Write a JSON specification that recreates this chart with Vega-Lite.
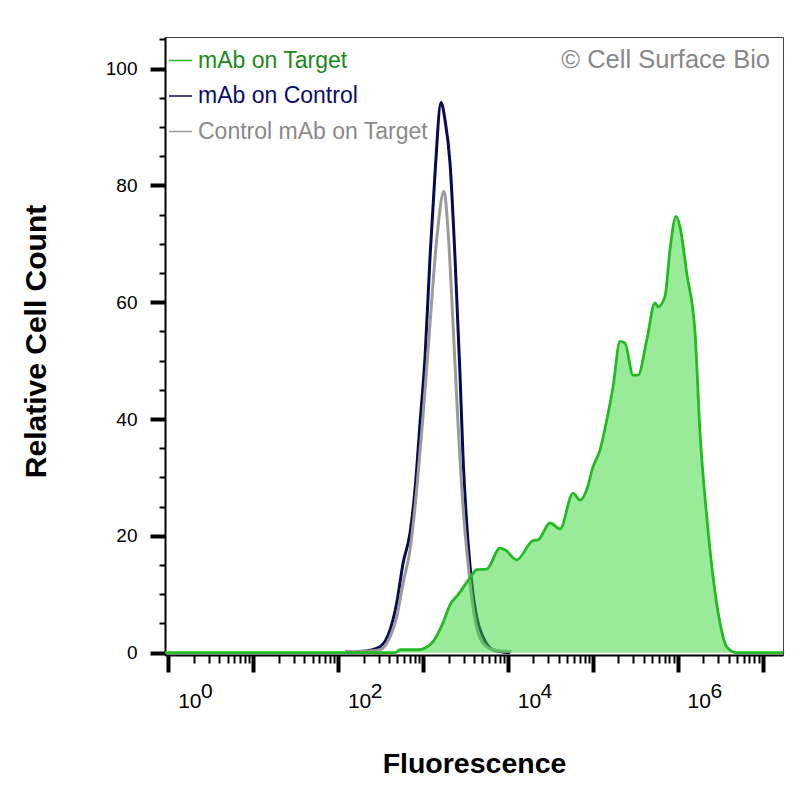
{
  "$schema": "https://vega.github.io/schema/vega-lite/v6.json",
  "description": "Flow cytometry histogram: relative cell count against fluorescence for three stainings.",
  "width": 618,
  "height": 618,
  "autosize": "none",
  "padding": {"left": 165, "top": 37, "right": 17, "bottom": 145},
  "background": "white",
  "config": {
    "font": "Liberation Sans",
    "view": {"stroke": "#444444", "strokeWidth": 1},
    "axis": {"grid": false}
  },
  "title": {
    "text": "© Cell Surface Bio",
    "orient": "top",
    "anchor": "end",
    "frame": "group",
    "offset": 0,
    "baseline": "alphabetic",
    "dy": 56,
    "dx": -13,
    "font": "Liberation Sans",
    "fontSize": 25.5,
    "fontWeight": "normal",
    "color": "#888888"
  },
  "data": {
    "values": [
      {"s": "mAb on Control", "f": 181, "c": 0.2},
      {"s": "mAb on Control", "f": 238, "c": 0.4},
      {"s": "mAb on Control", "f": 312, "c": 1.0},
      {"s": "mAb on Control", "f": 409, "c": 3.9},
      {"s": "mAb on Control", "f": 490, "c": 8.5},
      {"s": "mAb on Control", "f": 582, "c": 15.3},
      {"s": "mAb on Control", "f": 703, "c": 20.5},
      {"s": "mAb on Control", "f": 805, "c": 27.9},
      {"s": "mAb on Control", "f": 922, "c": 39.3},
      {"s": "mAb on Control", "f": 1056, "c": 50.6},
      {"s": "mAb on Control", "f": 1210, "c": 67.8},
      {"s": "mAb on Control", "f": 1385, "c": 82.1},
      {"s": "mAb on Control", "f": 1629, "c": 94.2},
      {"s": "mAb on Control", "f": 1815, "c": 91.2},
      {"s": "mAb on Control", "f": 2080, "c": 83.8},
      {"s": "mAb on Control", "f": 2378, "c": 67.8},
      {"s": "mAb on Control", "f": 2723, "c": 47.9},
      {"s": "mAb on Control", "f": 2958, "c": 33.6},
      {"s": "mAb on Control", "f": 3270, "c": 22.2},
      {"s": "mAb on Control", "f": 3749, "c": 11.9},
      {"s": "mAb on Control", "f": 4289, "c": 6.1},
      {"s": "mAb on Control", "f": 5092, "c": 2.7},
      {"s": "mAb on Control", "f": 6668, "c": 0.5},
      {"s": "mAb on Control", "f": 10590, "c": 0},

      {"s": "Control mAb on Target", "f": 120.5, "c": 0.2},
      {"s": "Control mAb on Target", "f": 238, "c": 0.3},
      {"s": "Control mAb on Target", "f": 312, "c": 0.5},
      {"s": "Control mAb on Target", "f": 409, "c": 2.7},
      {"s": "Control mAb on Target", "f": 490, "c": 6.1},
      {"s": "Control mAb on Target", "f": 582, "c": 11.9},
      {"s": "Control mAb on Target", "f": 703, "c": 17.6},
      {"s": "Control mAb on Target", "f": 843, "c": 27.9},
      {"s": "Control mAb on Target", "f": 1000, "c": 40.4},
      {"s": "Control mAb on Target", "f": 1210, "c": 56.4},
      {"s": "Control mAb on Target", "f": 1449, "c": 70.7},
      {"s": "Control mAb on Target", "f": 1766, "c": 79},
      {"s": "Control mAb on Target", "f": 1968, "c": 72.4},
      {"s": "Control mAb on Target", "f": 2255, "c": 56.4},
      {"s": "Control mAb on Target", "f": 2582, "c": 39.3},
      {"s": "Control mAb on Target", "f": 2958, "c": 25},
      {"s": "Control mAb on Target", "f": 3388, "c": 15.3},
      {"s": "Control mAb on Target", "f": 3883, "c": 7.8},
      {"s": "Control mAb on Target", "f": 4694, "c": 2.5},
      {"s": "Control mAb on Target", "f": 6152, "c": 0.7},
      {"s": "Control mAb on Target", "f": 8070, "c": 0.3},
      {"s": "Control mAb on Target", "f": 11000, "c": 0.2},

      {"s": "mAb on Target", "f": 0.914, "c": 0},
      {"s": "mAb on Target", "f": 469, "c": 0},
      {"s": "mAb on Target", "f": 536, "c": 0.5},
      {"s": "mAb on Target", "f": 873, "c": 0.5},
      {"s": "mAb on Target", "f": 1056, "c": 0.8},
      {"s": "mAb on Target", "f": 1313, "c": 1.9},
      {"s": "mAb on Target", "f": 1718, "c": 5.1},
      {"s": "mAb on Target", "f": 2080, "c": 8.2},
      {"s": "mAb on Target", "f": 2582, "c": 9.9},
      {"s": "mAb on Target", "f": 3578, "c": 12.8},
      {"s": "mAb on Target", "f": 4289, "c": 14.2},
      {"s": "mAb on Target", "f": 5623, "c": 14.3},
      {"s": "mAb on Target", "f": 8070, "c": 17.9},
      {"s": "mAb on Target", "f": 9247, "c": 17.6},
      {"s": "mAb on Target", "f": 12700, "c": 15.9},
      {"s": "mAb on Target", "f": 19770, "c": 19.2},
      {"s": "mAb on Target", "f": 22650, "c": 19.3},
      {"s": "mAb on Target", "f": 31340, "c": 22.2},
      {"s": "mAb on Target", "f": 41110, "c": 21.2},
      {"s": "mAb on Target", "f": 58480, "c": 27.3},
      {"s": "mAb on Target", "f": 70790, "c": 26.1},
      {"s": "mAb on Target", "f": 84760, "c": 27.9},
      {"s": "mAb on Target", "f": 100500, "c": 31.8},
      {"s": "mAb on Target", "f": 121600, "c": 34.7},
      {"s": "mAb on Target", "f": 145900, "c": 39.8},
      {"s": "mAb on Target", "f": 173000, "c": 45.5},
      {"s": "mAb on Target", "f": 208900, "c": 53.3},
      {"s": "mAb on Target", "f": 239300, "c": 53},
      {"s": "mAb on Target", "f": 297800, "c": 47.5},
      {"s": "mAb on Target", "f": 341100, "c": 47.5},
      {"s": "mAb on Target", "f": 431500, "c": 53.5},
      {"s": "mAb on Target", "f": 540800, "c": 59.9},
      {"s": "mAb on Target", "f": 586100, "c": 59.2},
      {"s": "mAb on Target", "f": 707900, "c": 61},
      {"s": "mAb on Target", "f": 810900, "c": 69},
      {"s": "mAb on Target", "f": 955000, "c": 74.7},
      {"s": "mAb on Target", "f": 1064000, "c": 72.9},
      {"s": "mAb on Target", "f": 1276000, "c": 65},
      {"s": "mAb on Target", "f": 1600000, "c": 54.7},
      {"s": "mAb on Target", "f": 1832000, "c": 37.6},
      {"s": "mAb on Target", "f": 2197000, "c": 23.3},
      {"s": "mAb on Target", "f": 2606000, "c": 13},
      {"s": "mAb on Target", "f": 3148000, "c": 5.1},
      {"s": "mAb on Target", "f": 3776000, "c": 1},
      {"s": "mAb on Target", "f": 4955000, "c": 0},
      {"s": "mAb on Target", "f": 17380000, "c": 0}
    ]
  },
  "layer": [
    {
      "transform": [{"filter": "datum.s == 'mAb on Control'"}],
      "mark": {"type": "line", "interpolate": "monotone", "strokeWidth": 3},
      "encoding": {
        "x": {
          "field": "f", "type": "quantitative",
          "scale": {"type": "log", "domain": [0.914, 17380000], "nice": false},
          "axis": {
            "orient": "bottom",
            "values": [1, 10, 100, 1000, 10000, 100000, 1000000, 10000000],
            "labelExpr": "round(log(datum.value) / LN10) % 2 == 0 ? '10' : ''",
            "tickSize": 17, "tickWidth": 4, "tickColor": "black",
            "domainColor": "black", "domainWidth": 2,
            "labelFontSize": 21, "labelColor": "black", "labelAlign": "center",
            "labelBaseline": "alphabetic", "labelPadding": 35, "labelOffset": 21,
            "labelFlush": false, "labelOverlap": false,
            "title": "Fluorescence", "titleFontSize": 28.5, "titleFontWeight": "bold",
            "titleColor": "black", "titleX": 309, "titleY": 108,
            "titleAlign": "center", "titleBaseline": "middle"
          }
        },
        "y": {
          "field": "c", "type": "quantitative",
          "scale": {"domain": [-0.4, 105.4], "nice": false, "zero": false},
          "axis": {
            "orient": "left",
            "values": [0, 20, 40, 60, 80, 100],
            "tickSize": 15, "tickWidth": 4, "tickColor": "black",
            "domainColor": "black", "domainWidth": 2,
            "labelFontSize": 19, "labelColor": "black", "labelPadding": 13,
            "title": "Relative Cell Count", "titleFontSize": 30, "titleFontWeight": "bold",
            "titleColor": "black", "titleAngle": -90, "titleX": -129, "titleY": 304,
            "titleAlign": "center", "titleBaseline": "middle"
          }
        },
        "color": {
          "field": "s", "type": "nominal",
          "scale": {
            "domain": ["mAb on Target", "mAb on Control", "Control mAb on Target"],
            "range": ["#22bb22", "#0a0a52", "#9a9a9a"]
          },
          "legend": {
            "orient": "none", "legendX": 3, "legendY": 11, "title": null,
            "padding": 0, "symbolType": "stroke", "symbolSize": 529, "symbolStrokeWidth": 1.5,
            "labelFont": "Liberation Sans", "labelFontSize": 23, "labelOffset": 5,
            "labelLimit": 400, "rowPadding": 10.5,
            "encode": {
              "labels": {"update": {"fill": {"signal": "datum.value == 'mAb on Target' ? '#1b8a1b' : datum.value == 'mAb on Control' ? '#0c0c6e' : '#8a8a8a'"}}},
              "symbols": {"update": {"stroke": {"signal": "datum.value == 'mAb on Target' ? '#1b8a1b' : datum.value == 'mAb on Control' ? '#0c0c6e' : '#8a8a8a'"}}}
            }
          }
        }
      }
    },
    {
      "transform": [{"filter": "datum.s == 'Control mAb on Target'"}],
      "mark": {"type": "line", "interpolate": "monotone", "strokeWidth": 3},
      "encoding": {
        "x": {
          "field": "f", "type": "quantitative",
          "scale": {"type": "log", "domain": [0.914, 17380000], "nice": false},
          "axis": {
            "orient": "bottom",
            "values": [2, 3, 4, 5, 6, 7, 8, 9,
                       20, 30, 40, 50, 60, 70, 80, 90,
                       200, 300, 400, 500, 600, 700, 800, 900,
                       2000, 3000, 4000, 5000, 6000, 7000, 8000, 9000,
                       20000, 30000, 40000, 50000, 60000, 70000, 80000, 90000,
                       200000, 300000, 400000, 500000, 600000, 700000, 800000, 900000,
                       2000000, 3000000, 4000000, 5000000, 6000000, 7000000, 8000000, 9000000],
            "labels": false, "domain": false,
            "tickSize": 8, "tickWidth": 2, "tickColor": "black",
            "title": null
          }
        },
        "y": {
          "field": "c", "type": "quantitative",
          "scale": {"domain": [-0.4, 105.4], "nice": false, "zero": false},
          "axis": {
            "orient": "left",
            "values": [5, 10, 15, 25, 30, 35, 45, 50, 55, 65, 70, 75, 85, 90, 95, 105],
            "labels": false, "domain": false,
            "tickSize": 6, "tickWidth": 2, "tickColor": "black",
            "title": null
          }
        },
        "color": {"field": "s", "type": "nominal"}
      }
    },
    {
      "transform": [{"filter": "datum.s == 'mAb on Target'"}],
      "mark": {"type": "area", "interpolate": "monotone", "color": "#34d834", "opacity": 0.5},
      "encoding": {
        "x": {
          "field": "f", "type": "quantitative",
          "scale": {"type": "log", "domain": [0.914, 17380000], "nice": false},
          "axis": {
            "orient": "bottom",
            "values": [1, 100, 10000, 1000000],
            "labelExpr": "'' + round(log(datum.value) / LN10)",
            "domain": false, "tickSize": 0,
            "labelFontSize": 21, "labelColor": "black", "labelAlign": "center",
            "labelBaseline": "alphabetic", "labelPadding": 42, "labelOffset": 38,
            "labelFlush": false, "labelOverlap": false,
            "title": null
          }
        },
        "y": {
          "field": "c", "type": "quantitative",
          "scale": {"domain": [-0.4, 105.4], "nice": false, "zero": false},
          "axis": null
        }
      }
    },
    {
      "transform": [{"filter": "datum.s == 'mAb on Target'"}],
      "mark": {"type": "line", "interpolate": "monotone", "strokeWidth": 2.8},
      "encoding": {
        "x": {
          "field": "f", "type": "quantitative",
          "scale": {"type": "log", "domain": [0.914, 17380000], "nice": false},
          "axis": null
        },
        "y": {
          "field": "c", "type": "quantitative",
          "scale": {"domain": [-0.4, 105.4], "nice": false, "zero": false},
          "axis": null
        },
        "color": {"field": "s", "type": "nominal"}
      }
    }
  ],
  "resolve": {"axis": {"x": "independent", "y": "independent"}}
}
